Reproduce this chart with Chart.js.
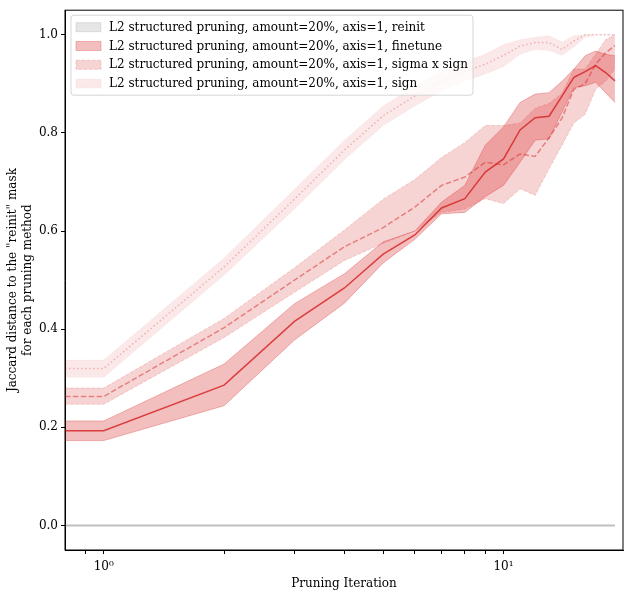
<!DOCTYPE html>
<html>
<head>
<meta charset="utf-8">
<script src="https://cdn.jsdelivr.net/npm/chart.js@4"></script>
<style>
  html, body { margin: 0; padding: 0; background: #fff; }
  #wrap { width: 630px; height: 597px; }
</style>
</head>
<body>
<div id="wrap"><canvas id="c"></canvas></div>
<script>
// pruning iterations (0 sits at the left edge on the log axis)
const iterations = [0, 1, 2, 3, 4, 5, 6, 7, 8, 9, 10, 11, 12, 13, 14, 15, 16, 17, 18, 19];

const reinitMean = [0, 0, 0, 0, 0, 0, 0, 0, 0, 0, 0, 0, 0, 0, 0, 0, 0, 0, 0, 0];

const finetuneMean = [0.193, 0.193, 0.286, 0.416, 0.484, 0.553, 0.592, 0.647, 0.666, 0.72, 0.747, 0.806, 0.831, 0.834, 0.875, 0.913, 0.925, 0.937, 0.923, 0.906];
const finetuneLo = [0.173, 0.173, 0.244, 0.378, 0.453, 0.535, 0.583, 0.635, 0.638, 0.67, 0.693, 0.74, 0.785, 0.788, 0.842, 0.892, 0.896, 0.903, 0.882, 0.862];
const finetuneHi = [0.213, 0.213, 0.329, 0.452, 0.513, 0.578, 0.6, 0.659, 0.693, 0.775, 0.812, 0.862, 0.879, 0.882, 0.905, 0.93, 0.957, 0.967, 0.96, 0.957];

const sigmaMean = [0.263, 0.263, 0.403, 0.5, 0.568, 0.607, 0.649, 0.693, 0.71, 0.74, 0.735, 0.757, 0.752, 0.79, 0.83, 0.889, 0.9, 0.94, 0.963, 0.978];
const sigmaLo = [0.247, 0.247, 0.383, 0.475, 0.54, 0.575, 0.6, 0.638, 0.645, 0.666, 0.656, 0.686, 0.673, 0.727, 0.775, 0.82, 0.838, 0.889, 0.905, 0.93];
const sigmaHi = [0.28, 0.28, 0.422, 0.525, 0.602, 0.665, 0.705, 0.75, 0.78, 0.815, 0.815, 0.82, 0.85, 0.86, 0.88, 0.93, 0.93, 0.96, 0.99, 1.0];

const signMean = [0.32, 0.32, 0.527, 0.665, 0.765, 0.835, 0.875, 0.905, 0.925, 0.94, 0.958, 0.977, 0.984, 0.984, 0.97, 0.987, 1.0, 1.0, 1.0, 1.0];
const signLo = [0.302, 0.302, 0.51, 0.645, 0.745, 0.815, 0.855, 0.885, 0.905, 0.92, 0.935, 0.96, 0.97, 0.968, 0.958, 0.975, 0.995, 1.0, 1.0, 1.0];
const signHi = [0.337, 0.337, 0.545, 0.685, 0.785, 0.855, 0.895, 0.925, 0.945, 0.96, 0.98, 0.99, 0.995, 0.998, 0.985, 0.998, 1.0, 1.0, 1.0, 1.0];

const legendLabels = [
  'L2 structured pruning, amount=20%, axis=1, reinit',
  'L2 structured pruning, amount=20%, axis=1, finetune',
  'L2 structured pruning, amount=20%, axis=1, sigma x sign',
  'L2 structured pruning, amount=20%, axis=1, sign'
];

const yTicks = [0.0, 0.2, 0.4, 0.6, 0.8, 1.0];
const xMajorTicks = { 1: '10\u2070', 10: '10\u00b9' };

const X_MIN = 0.8, X_MAX = 19.9;
const FONT = "'DejaVu Serif', 'Liberation Serif', serif";

function pts(vals) {
  return iterations.map((it, i) => ({ x: Math.max(it, X_MIN), y: vals[i] }));
}

// one method = low edge, high edge (filled to low), mean line
function bandSets(lo, hi, mean, fill, edge, line, dashBand, dashLine) {
  return [
    { data: pts(lo), borderColor: edge, borderWidth: 1, borderDash: dashBand, pointRadius: 0, fill: false, tension: 0 },
    { data: pts(hi), borderColor: edge, borderWidth: 1, borderDash: dashBand, pointRadius: 0, fill: '-1', backgroundColor: fill, tension: 0 },
    { data: pts(mean), borderColor: line, borderWidth: 1.5, borderDash: dashLine, pointRadius: 0, fill: false, tension: 0 }
  ];
}

const datasets = [].concat(
  bandSets(reinitMean, reinitMean, reinitMean, 'rgba(0,0,0,0)', 'rgba(0,0,0,0)', 'rgba(128,128,128,0.5)', [], []),
  bandSets(finetuneLo, finetuneHi, finetuneMean, 'rgba(214,39,40,0.3)', 'rgba(214,39,40,0.3)', 'rgba(214,39,40,0.85)', [], []),
  bandSets(sigmaLo, sigmaHi, sigmaMean, 'rgba(214,39,40,0.2)', 'rgba(214,39,40,0.2)', 'rgba(214,39,40,0.5)', [3.7, 1.6], [5.5, 2.4]),
  bandSets(signLo, signHi, signMean, 'rgba(214,39,40,0.1)', 'rgba(214,39,40,0.1)', 'rgba(214,39,40,0.3)', [1, 1.65], [1.5, 2.5])
);
datasets[2].borderWidth = 2;

const legendStyle = [
  { fill: 'rgba(128,128,128,0.2)', edge: 'rgba(128,128,128,0.2)', dash: [] },
  { fill: 'rgba(214,39,40,0.3)', edge: 'rgba(214,39,40,0.3)', dash: [] },
  { fill: 'rgba(214,39,40,0.2)', edge: 'rgba(214,39,40,0.2)', dash: [3.7, 1.6] },
  { fill: 'rgba(214,39,40,0.1)', edge: 'rgba(214,39,40,0.1)', dash: [1, 1.65] }
];

// legend box inside the plot + full frame
const insideLegend = {
  id: 'insideLegend',
  afterDraw(chart) {
    const ctx = chart.ctx;
    const a = chart.chartArea;
    ctx.save();
    ctx.strokeStyle = '#000';
    ctx.lineWidth = 1;
    ctx.strokeRect(a.left, a.top, a.right - a.left, a.bottom - a.top);

    const bx = a.left + 6, by = a.top + 5, bw = 402, bh = 80;
    ctx.beginPath();
    ctx.roundRect(bx, by, bw, bh, 3);
    ctx.fillStyle = 'rgba(255,255,255,0.8)';
    ctx.fill();
    ctx.strokeStyle = 'rgba(204,204,204,0.8)';
    ctx.stroke();

    ctx.font = '12px ' + FONT;
    ctx.textBaseline = 'middle';
    legendLabels.forEach((lab, i) => {
      const cy = by + 12 + i * 18.8;
      const s = legendStyle[i];
      ctx.setLineDash(s.dash);
      ctx.fillStyle = s.fill;
      ctx.fillRect(bx + 5, cy - 4.5, 25, 9);
      ctx.strokeStyle = s.edge;
      ctx.strokeRect(bx + 5, cy - 4.5, 25, 9);
      ctx.setLineDash([]);
      ctx.fillStyle = '#000';
      ctx.fillText(lab, bx + 38, cy + 0.5);
    });
    ctx.restore();
  }
};

new Chart(document.getElementById('c'), {
  type: 'line',
  data: { datasets: datasets },
  options: {
    responsive: true,
    maintainAspectRatio: false,
    animation: false,
    layout: { padding: { top: 7, right: 7, left: 0, bottom: 6 } },
    plugins: {
      legend: { display: false },
      tooltip: { enabled: false },
      filler: { propagate: false }
    },
    scales: {
      x: {
        type: 'logarithmic',
        min: X_MIN,
        max: X_MAX,
        afterFit(scale) { scale.height = 41; },
        afterBuildTicks(scale) {
          const t = [];
          [0.9, 1, 2, 3, 4, 5, 6, 7, 8, 9, 10].forEach(v => t.push({ value: v, major: v === 1 || v === 10 }));
          scale.ticks = t;
        },
        grid: { drawOnChartArea: false, drawTicks: true, tickLength: 4, color: '#000', tickColor: '#000' },
        border: { color: '#000', width: 1 },
        ticks: {
          autoSkip: false,
          maxRotation: 0,
          padding: 6,
          color: '#000',
          font: { family: FONT, size: 12 },
          callback(v) { return xMajorTicks[v] || ''; }
        },
        title: {
          display: true,
          text: 'Pruning Iteration',
          color: '#000',
          font: { family: FONT, size: 12 },
          padding: { top: 0, bottom: 0 }
        }
      },
      y: {
        min: -0.05,
        max: 1.05,
        afterFit(scale) { scale.width = 65; },
        afterBuildTicks(scale) { scale.ticks = yTicks.map(v => ({ value: v })); },
        grid: { drawOnChartArea: false, drawTicks: true, tickLength: 4, color: '#000', tickColor: '#000' },
        border: { color: '#000', width: 1 },
        ticks: {
          padding: 3,
          color: '#000',
          font: { family: FONT, size: 12 },
          callback(v) { return v.toFixed(1); }
        },
        title: {
          display: true,
          text: ['Jaccard distance to the "reinit" mask', 'for each pruning method'],
          color: '#000',
          font: { family: FONT, size: 12 },
          padding: { top: 6, bottom: 0 }
        }
      }
    }
  },
  plugins: [insideLegend]
});
</script>
</body>
</html>
